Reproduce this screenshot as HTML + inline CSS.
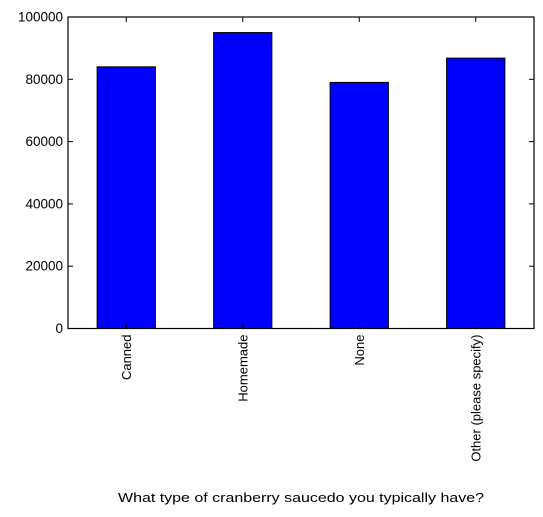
<!DOCTYPE html>
<html><head><meta charset="utf-8"><style>
html,body{margin:0;padding:0;background:#fff;}
svg{display:block;font-family:"Liberation Sans","DejaVu Sans",sans-serif;}
</style></head><body>
<svg id="chart" width="543" height="517"></svg>
<script>
const categories = ["Canned","Homemade","None","Other (please specify)"];
const values = [84000, 95000, 79000, 86800];
const yTicks = [0, 20000, 40000, 60000, 80000, 100000];
const xTitle = "What type of cranberry saucedo you typically have?";

const NS = "http://www.w3.org/2000/svg";
const svg = document.getElementById("chart");
const L = 68, R = 534, T = 17, B = 328.5, yMax = 100000;
const band = (R - L) / categories.length;
const xPos = i => L + band * (i + 0.5);
const yPos = v => B - (v / yMax) * (B - T);
function mk(tag, attrs, parent) {
  const e = document.createElementNS(NS, tag);
  for (const k in attrs) e.setAttribute(k, attrs[k]);
  (parent || svg).appendChild(e);
  return e;
}
values.forEach((v, i) => {
  const w = band * 0.5;
  const r = mk("rect", {x: xPos(i) - w / 2, y: yPos(v), width: w, height: B - yPos(v), fill: "#0000ff", stroke: "#000", "stroke-width": 1});
  
  
});
yTicks.forEach(t => {
  const y = yPos(t);
  mk("line", {x1: L, x2: L + 5, y1: y, y2: y, stroke: "#000"});
  mk("line", {x1: R - 5, x2: R, y1: y, y2: y, stroke: "#000"});
  const tx = mk("text", {x: L - 5, y: y + 4.5, "text-anchor": "end", "font-size": 13.5});
  tx.textContent = t;
  
  
});
categories.forEach((c, i) => {
  const x = xPos(i);
  mk("line", {x1: x, x2: x, y1: B, y2: B - 5, stroke: "#000"});
  mk("line", {x1: x, x2: x, y1: T, y2: T + 5, stroke: "#000"});
  const tx = mk("text", {x: 0, y: 0, "text-anchor": "end", "font-size": 13, transform: `translate(${x + 4.5},${B + 6}) rotate(-90)`});
  tx.textContent = c;
  
  
});
const frame = mk("rect", {x: L, y: T, width: R - L, height: B - T, fill: "none", stroke: "#000", "stroke-width": 1.2});


const xt = mk("text", {x: 118, y: 502, "font-size": 13, textLength: 366, lengthAdjust: "spacingAndGlyphs"});
xt.textContent = xTitle;


</script>
</body></html>
